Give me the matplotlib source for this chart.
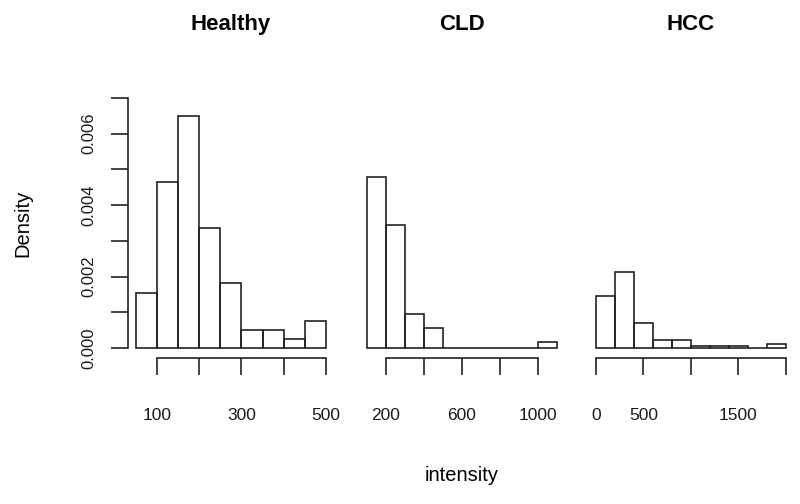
import numpy as np
import matplotlib.pyplot as plt

plt.rcParams['font.family'] = ['Liberation Sans', 'DejaVu Sans']

# histogram breaks and densities
healthy_breaks = [50, 100, 150, 200, 250, 300, 350, 400, 450, 500]
healthy_density = [0.00155, 0.00466, 0.0065, 0.00337, 0.00181, 0.0005, 0.0005, 0.00025, 0.00076]

cld_breaks = [100, 200, 300, 400, 500, 600, 700, 800, 900, 1000, 1100]
cld_density = [0.0048, 0.00345, 0.00095, 0.00057, 0, 0, 0, 0, 0, 0.00018]

hcc_breaks = [0, 200, 400, 600, 800, 1000, 1200, 1400, 1600, 1800, 2000]
hcc_density = [0.00145, 0.00212, 0.00069, 0.00022, 0.00022, 0.00005, 0.00005, 0.00005, 0, 0.00011]

titles = ['Healthy', 'CLD', 'HCC']
x_ticks = [[100, 200, 300, 400, 500], [200, 400, 600, 800, 1000], [0, 500, 1000, 1500, 2000]]
x_labels = [['100', '', '300', '', '500'], ['200', '', '600', '', '1000'], ['0', '500', '', '1500', '']]
y_ticks = [0, 0.001, 0.002, 0.003, 0.004, 0.005, 0.006, 0.007]
y_labels = ['0.000', '', '0.002', '', '0.004', '', '0.006', '']

panels = [(healthy_breaks, healthy_density), (cld_breaks, cld_density), (hcc_breaks, hcc_density)]
lefts = [128.4 / 800, 359.1 / 800, 588.4 / 800]
line_col = '#222222'
ymax = 0.007

fig = plt.figure(figsize=(8, 5.04), dpi=100)
axes = []
for i, (breaks, dens) in enumerate(panels):
    ax = fig.add_axes([lefts[i], 146 / 504, 205 / 800, 270 / 504])
    axes.append(ax)
    breaks = np.array(breaks)
    ax.bar(breaks[:-1], dens, width=np.diff(breaks), align='edge', fill=False,
           edgecolor=line_col, linewidth=1.2)
    rng = breaks[-1] - breaks[0]
    ax.set_xlim(breaks[0] - 0.04 * rng, breaks[-1] + 0.04 * rng)
    ax.set_ylim(-0.04 * ymax, 1.04 * ymax)
    for s in ['top', 'right']:
        ax.spines[s].set_visible(False)
    ax.spines['bottom'].set_bounds(x_ticks[i][0], x_ticks[i][-1])
    ax.spines['bottom'].set_color(line_col)
    ax.spines['bottom'].set_linewidth(1.2)
    ax.set_xticks(x_ticks[i])
    ax.set_xticklabels(x_labels[i])
    ax.tick_params(axis='x', length=12.2, width=1.2, color=line_col, pad=23.5,
                   labelsize=12.5, labelcolor='#1a1a1a')
    if i == 0:
        ax.spines['left'].set_bounds(0, ymax)
        ax.spines['left'].set_color(line_col)
        ax.spines['left'].set_linewidth(1.2)
        ax.set_yticks(y_ticks)
        ax.set_yticklabels(y_labels, rotation=90, va='center')
        ax.tick_params(axis='y', length=12.2, width=1.2, color=line_col, pad=10.5,
                       labelsize=12, labelcolor='#1a1a1a')
    else:
        ax.spines['left'].set_visible(False)
        ax.set_yticks([])
    ax.set_title(titles[i], fontsize=16, fontweight='bold', pad=42)

axes[1].set_xlabel('intensity', fontsize=14.5)
axes[1].xaxis.set_label_coords(0.5, -0.40)
fig.text(23 / 800, 1 - 223 / 504, 'Density', rotation=90, ha='center', va='center', fontsize=14.5)

plt.savefig('out.png', dpi=100)
